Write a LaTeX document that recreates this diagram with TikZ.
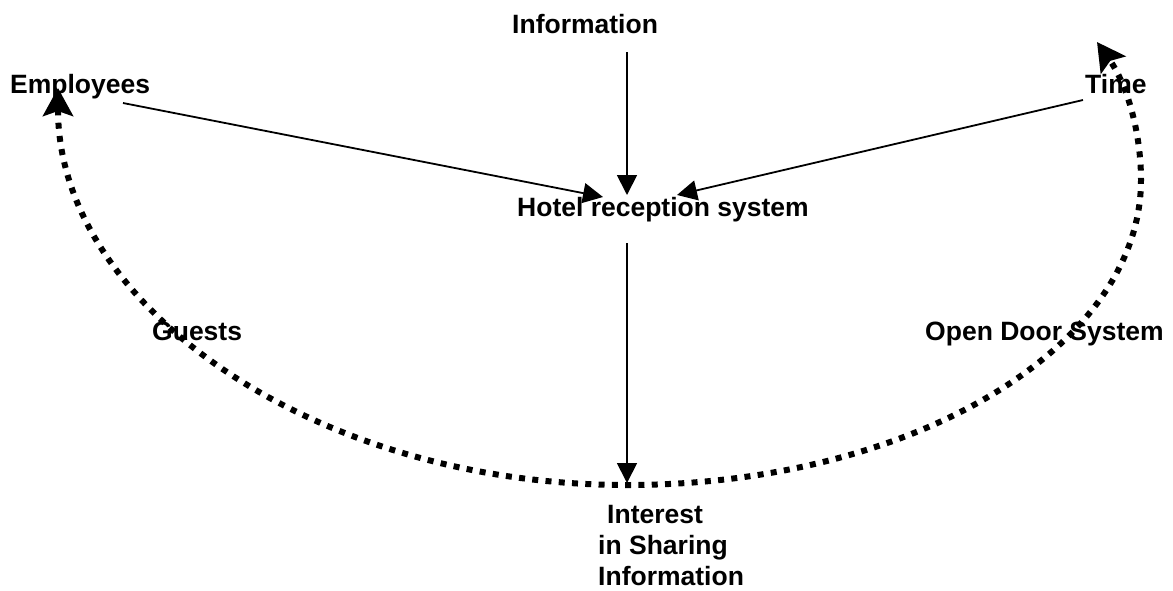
\documentclass[tikz,border=0pt]{standalone}
\usepackage{fontspec}
\setmainfont{Liberation Sans}
\usetikzlibrary{arrows.meta}
\begin{document}
\begin{tikzpicture}[x=1pt,y=-1pt,
  lbl/.style={font=\fontsize{26.5}{31}\selectfont\bfseries, inner sep=0pt, anchor=base west},
  solidarrow/.style={line width=1.8pt, -{Triangle[length=20pt,width=20pt]}},
  dotline/.style={line width=6pt, dash pattern=on 6pt off 7.3pt,
    {Stealth[length=28pt,width=30pt,inset=5pt]}-{Stealth[length=28pt,width=30pt,inset=5pt]}}]
\useasboundingbox (0,0) rectangle (1173,590);
% dotted loop
\coordinate (eL) at (58,88);
\coordinate (bot) at (627,485);
\coordinate (rmid) at (1141,180);
\coordinate (eR) at (1097,42);
\draw[dotline] (eL) .. controls (58,305) and (313,485) .. (bot)
  .. controls (911,485) and (1141,348) .. (rmid)
  .. controls (1141,134) and (1128,86) .. (eR);
% labels
\node[lbl] (info) at (512,33) {Information};
\node[lbl] (emp) at (10,93) {Employees};
\node[lbl] (time) at (1085,93) {Time};
\node[lbl] (hotel) at (517,216) {Hotel reception system};
\node[lbl] (guests) at (152,340) {Guests};
\node[lbl] (ods) at (925,340) {Open Door System};
\node[lbl] (int1) at (607,523) {Interest};
\node[lbl] (int2) at (598,554) {in Sharing};
\node[lbl] (int3) at (598,585) {Information};
% connector endpoints
\coordinate (infoS) at (627,52);
\coordinate (hotelN) at (627,195);
\coordinate (empE) at (123,103);
\coordinate (hotelNW) at (603,197);
\coordinate (timeW) at (1083,100);
\coordinate (hotelNE) at (677,195);
\coordinate (hotelS) at (627,243);
\coordinate (intN) at (627,483);
\draw[solidarrow] (infoS) -- (hotelN);
\draw[solidarrow] (empE) -- (hotelNW);
\draw[solidarrow] (timeW) -- (hotelNE);
\draw[solidarrow] (hotelS) -- (intN);
\end{tikzpicture}
\end{document}
